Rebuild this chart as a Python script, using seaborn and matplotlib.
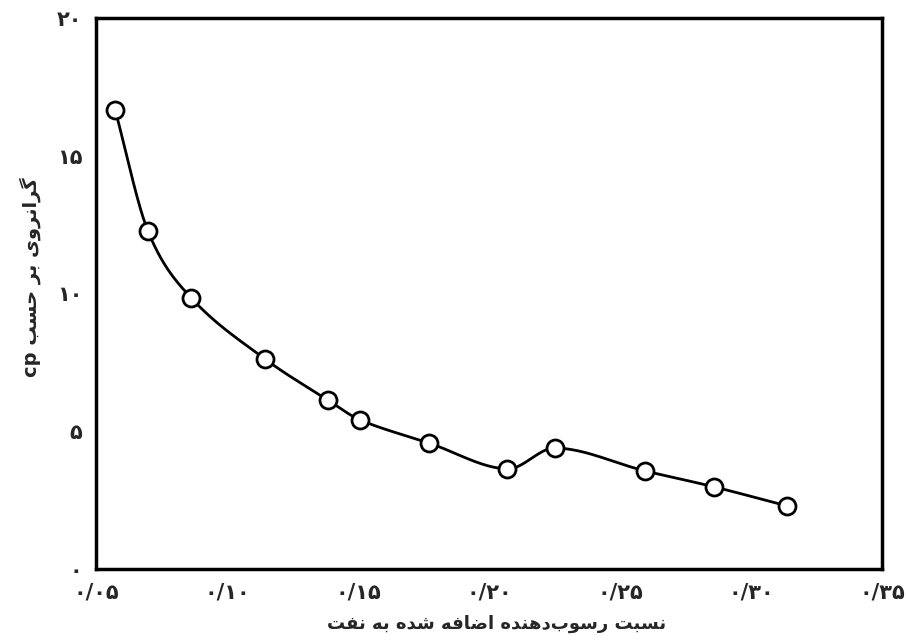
import numpy as np
import pandas as pd
import matplotlib
matplotlib.use("Agg")
import matplotlib.pyplot as plt
import seaborn as sns

# ---------------- data ----------------
ratio = [0.0573, 0.0698, 0.0863, 0.1145, 0.1385, 0.1508, 0.1771, 0.2069, 0.2252, 0.2595, 0.2859, 0.3137]
viscosity = [16.66, 12.27, 9.84, 7.62, 6.13, 5.41, 4.57, 3.63, 4.39, 3.56, 2.98, 2.29]
x_ticks = [0.05, 0.10, 0.15, 0.20, 0.25, 0.30, 0.35]
x_tick_labels = ["۰/۰۵", "۰/۱۰", "۰/۱۵", "۰/۲۰", "۰/۲۵", "۰/۳۰", "۰/۳۵"]
y_ticks = [0, 5, 10, 15, 20]
y_tick_labels = ["۰", "۵", "۱۰", "۱۵", "۲۰"]
x_label = "نسبت رسوب‌دهنده اضافه شده به نفت"
y_label_fa = "گرانروی بر حسب"
y_label_unit = "cp"

# ---------------- simple Arabic/Persian shaping ----------------
FORMS = {  # iso, fin, ini, med
    "ا": ("\uFE8D", "\uFE8E", None, None),
    "ب": ("\uFE8F", "\uFE90", "\uFE91", "\uFE92"),
    "ت": ("\uFE95", "\uFE96", "\uFE97", "\uFE98"),
    "ح": ("\uFEA1", "\uFEA2", "\uFEA3", "\uFEA4"),
    "د": ("\uFEA9", "\uFEAA", None, None),
    "ر": ("\uFEAD", "\uFEAE", None, None),
    "ز": ("\uFEAF", "\uFEB0", None, None),
    "س": ("\uFEB1", "\uFEB2", "\uFEB3", "\uFEB4"),
    "ش": ("\uFEB5", "\uFEB6", "\uFEB7", "\uFEB8"),
    "ض": ("\uFEBD", "\uFEBE", "\uFEBF", "\uFEC0"),
    "ف": ("\uFED1", "\uFED2", "\uFED3", "\uFED4"),
    "ن": ("\uFEE5", "\uFEE6", "\uFEE7", "\uFEE8"),
    "ه": ("\uFEE9", "\uFEEA", "\uFEEB", "\uFEEC"),
    "و": ("\uFEED", "\uFEEE", None, None),
    "ی": ("\uFBFC", "\uFBFD", "\uFBFE", "\uFBFF"),
    "گ": ("\uFB92", "\uFB93", "\uFB94", "\uFB95"),
    "ک": ("\uFB8E", "\uFB8F", "\uFB90", "\uFB91"),
}


def shape(text):
    out = []
    n = len(text)
    for i, ch in enumerate(text):
        if ch not in FORMS:
            if ch != "\u200c":
                out.append(ch)
            continue
        prev = text[i - 1] if i > 0 else None
        nxt = text[i + 1] if i < n - 1 else None
        join_prev = prev in FORMS and FORMS[prev][2] is not None
        join_next = nxt in FORMS and FORMS[ch][2] is not None
        iso, fin, ini, med = FORMS[ch]
        if join_prev and join_next:
            out.append(med)
        elif join_prev:
            out.append(fin)
        elif join_next:
            out.append(ini)
        else:
            out.append(iso)
    return "".join(out)[::-1]


# ---------------- smooth curve (cubic Hermite through the points) ----------------
def smooth(xs, ys, n=40):
    xs = np.asarray(xs, float)
    ys = np.asarray(ys, float)
    m = np.zeros_like(ys)
    m[1:-1] = (ys[2:] - ys[:-2]) / (xs[2:] - xs[:-2])
    m[0] = (ys[1] - ys[0]) / (xs[1] - xs[0])
    m[-1] = (ys[-1] - ys[-2]) / (xs[-1] - xs[-2])
    X, Y = [], []
    for k in range(len(xs) - 1):
        h = xs[k + 1] - xs[k]
        t = np.linspace(0, 1, n, endpoint=(k == len(xs) - 2))
        h00 = 2 * t**3 - 3 * t**2 + 1
        h10 = t**3 - 2 * t**2 + t
        h01 = -2 * t**3 + 3 * t**2
        h11 = t**3 - t**2
        X.append(xs[k] + t * h)
        Y.append(h00 * ys[k] + h10 * h * m[k] + h01 * ys[k + 1] + h11 * h * m[k + 1])
    return np.concatenate(X), np.concatenate(Y)


sns.set_style("white")
plt.rcParams["font.family"] = ["DejaVu Sans"]

fig = plt.figure(figsize=(9.06, 6.4), dpi=100)
ax = fig.add_axes([0.106, 0.111, 0.8675, 0.861])

df = pd.DataFrame({"ratio": ratio, "viscosity": viscosity})
cx, cy = smooth(ratio, viscosity)
curve = pd.DataFrame({"x": cx, "y": cy})
sns.lineplot(data=curve, x="x", y="y", ax=ax, color="black", linewidth=2.0, sort=False, zorder=2)
sns.scatterplot(data=df, x="ratio", y="viscosity", ax=ax, s=150, color="white",
                edgecolor="black", linewidth=2.0, zorder=3)

ax.set_xlim(0.05, 0.35)
ax.set_ylim(0, 20)
ax.set_xticks(x_ticks)
ax.set_xticklabels(x_tick_labels)
ax.set_yticks(y_ticks)
ax.set_yticklabels(y_tick_labels)
ax.tick_params(axis="both", direction="out", length=7, width=1.0, color="#888888",
               labelsize=15, pad=3)
for lab in ax.get_xticklabels() + ax.get_yticklabels():
    lab.set_fontweight("bold")

for sp in ax.spines.values():
    sp.set_linewidth(2.5)
    sp.set_color("black")

ax.set_xlabel(shape(x_label), fontsize=13, fontweight="bold")
ax.set_ylabel(y_label_unit + " " + shape(y_label_fa), fontsize=14, fontweight="bold")
ax.xaxis.set_label_coords(0.51, -0.1)
ax.yaxis.set_label_coords(-0.084, 0.53)
ax.xaxis.label.set_va("center")
ax.yaxis.label.set_va("center")

fig.savefig("out.png", dpi=100)
